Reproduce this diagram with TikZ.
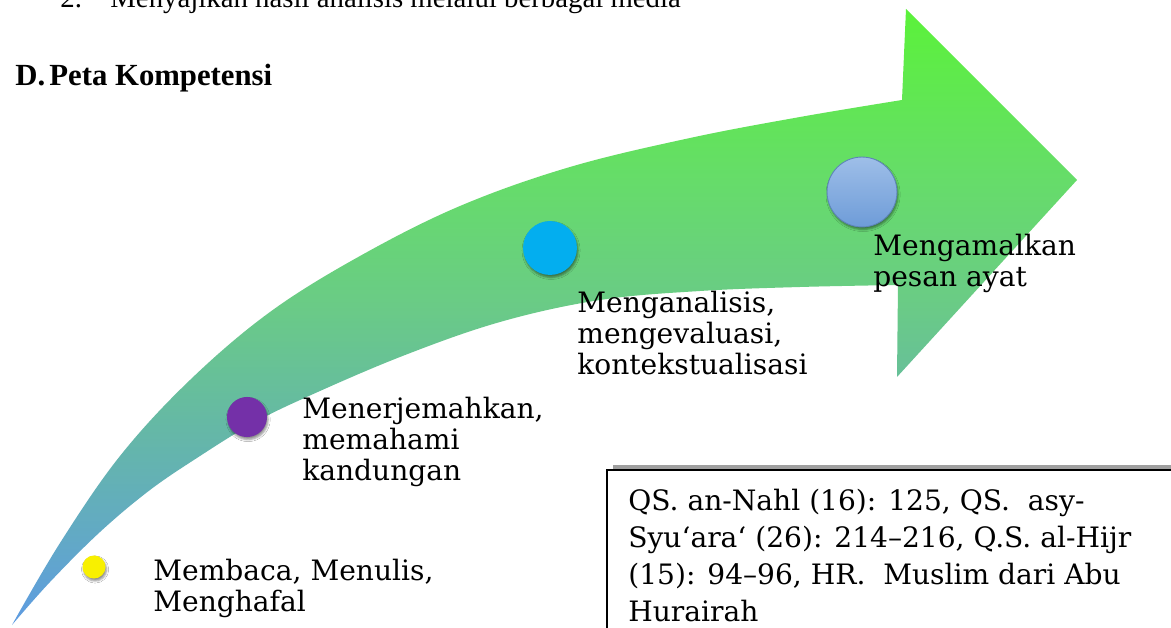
\documentclass[tikz,border=0pt]{standalone}
\usepackage{fontspec}
\setmainfont{Liberation Serif}
\newfontfamily\labfont{DejaVu Serif}
\usetikzlibrary{shadows.blur}
\definecolor{ca0}{HTML}{5E9BE2}
\definecolor{ca1}{HTML}{62A9C6}
\definecolor{ca2}{HTML}{65B8A6}
\definecolor{ca3}{HTML}{6ACB86}
\definecolor{ca4}{HTML}{66DC6A}
\definecolor{ca5}{HTML}{5BF23A}
\definecolor{yel}{HTML}{F8F000}
\definecolor{pur}{HTML}{7430A8}
\definecolor{cya}{HTML}{03AEEF}
\definecolor{lbtop}{HTML}{9EBEE8}
\definecolor{lbbot}{HTML}{6E9CD8}
\pgfdeclareverticalshading{arrowshade}{100bp}{color(0bp)=(ca0); color(25bp)=(ca0); color(32bp)=(ca1); color(41bp)=(ca2); color(51bp)=(ca3); color(61bp)=(ca4); color(75bp)=(ca5); color(100bp)=(ca5)}
\tikzset{
  lab/.style={anchor=north west, inner sep=0pt, align=left, font=\labfont\fontsize{16pt}{17.5pt}\selectfont},
  reftext/.style={anchor=north west, inner sep=0pt, align=left, font=\labfont\fontsize{16pt}{21pt}\selectfont},
  dot/.style={circle, inner sep=0pt, blur shadow={shadow xshift=0.6pt, shadow yshift=-1.4pt, shadow blur radius=1.2pt, shadow opacity=45}},
  toptext/.style={anchor=base west, inner sep=0pt, font=\fontsize{16.4pt}{19pt}\selectfont},
  headtext/.style={anchor=base west, inner sep=0pt, font=\bfseries\fontsize{17.5pt}{20pt}\selectfont},
}
\begin{document}
\begin{tikzpicture}[x=0.02cm, y=-0.02cm]
\useasboundingbox (0,0) rectangle (1171,628);
\clip (0,0) rectangle (1171,628);
\fill[white] (0,0) rectangle (1171,628);
% header texts
\node[toptext] (n2) at (60,8) {2.};
\node[toptext] (ntop) at (110,8) {Menyajikan hasil analisis melalui berbagai media};
\node[headtext] (hD) at (15,86) {D.};
\node[headtext] (hP) at (49,86) {Peta Kompetensi};
% curved arrow
\shade[shading=arrowshade]
  plot[smooth,tension=0.6] coordinates {(12,625) (60,543) (120,456) (190,380) (270,312) (360,256) (460,206) (570,167) (690,138) (800,117) (902,100)}
  -- (906,9) -- (1077,180) -- (897,377)
  -- plot[smooth,tension=0.6] coordinates {(898,285) (800,287) (700,291) (600,300) (500,322) (400,357) (300,400) (250,425) (200,456) (150,490) (100,532) (50,582) (12,625)}
  -- cycle;
% dots
\node[dot, fill=yel, minimum size=13.1pt] (p1) at (94,567) {};
\node[dot, fill=pur, minimum size=22.8pt] (p2) at (247,417) {};
\node[dot, fill=cya, minimum size=30.7pt] (p3) at (550,248) {};
\node[dot, top color=lbtop, bottom color=lbbot, draw=lbbot!85!black, line width=0.5pt, minimum size=39.8pt] (p4) at (862,192) {};
% labels
\node[lab] (l1) at (153,559) {Membaca, Menulis,\\Menghafal};
\node[lab] (l2) at (302,397) {Menerjemahkan,\\memahami\\kandungan};
\node[lab] (l3) at (577,291) {Menganalisis,\\mengevaluasi,\\kontekstualisasi};
\node[lab] (l4) at (873,234) {Mengamalkan\\pesan ayat};
% reference box
\fill[gray!75] (613,465) rectangle (1200,660);
\draw[fill=white, line width=0.9pt] (607,470) rectangle (1200,660);
\node[reftext] (refs) at (628,489) {QS. an-Nahl (16): 125, QS.~ asy-\\Syu‘ara‘ (26): 214–216, Q.S. al-Hijr\\(15): 94–96, HR.~ Muslim dari Abu\\Hurairah};
\end{tikzpicture}
\end{document}
